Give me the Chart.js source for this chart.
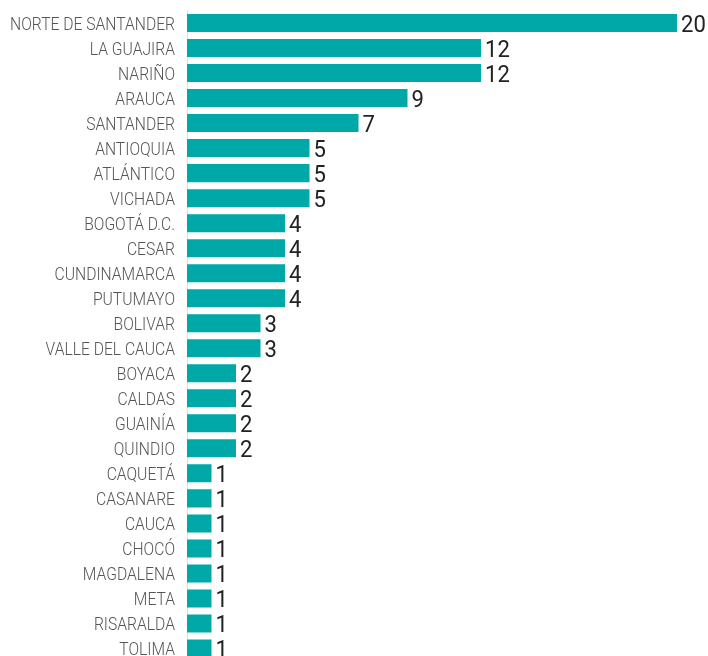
<!DOCTYPE html>
<html>
<head>
<meta charset="utf-8">
<script src="https://cdn.jsdelivr.net/npm/chart.js@4.4.0/dist/chart.umd.min.js"></script>
<style>
  html, body { margin: 0; padding: 0; background: #fff; overflow: hidden; }
  #wrap { position: relative; width: 708px; height: 661px; }
</style>
</head>
<body>
<div id="wrap"><canvas id="chart"></canvas></div>
<script>
  const departamentos = ['NORTE DE SANTANDER', 'LA GUAJIRA', 'NARIÑO', 'ARAUCA', 'SANTANDER',
    'ANTIOQUIA', 'ATLÁNTICO', 'VICHADA', 'BOGOTÁ D.C.', 'CESAR', 'CUNDINAMARCA', 'PUTUMAYO',
    'BOLIVAR', 'VALLE DEL CAUCA', 'BOYACA', 'CALDAS', 'GUAINÍA', 'QUINDIO', 'CAQUETÁ',
    'CASANARE', 'CAUCA', 'CHOCÓ', 'MAGDALENA', 'META', 'RISARALDA', 'TOLIMA'];
  const casos = [20, 12, 12, 9, 7, 5, 5, 5, 4, 4, 4, 4, 3, 3, 2, 2, 2, 2, 1, 1, 1, 1, 1, 1, 1, 1];

  // condensed category names on the y axis + numbers at the end of each bar
  const barText = {
    id: 'barText',
    afterDatasetsDraw(chart) {
      const ctx = chart.ctx;
      const yScale = chart.scales.y;
      const meta = chart.getDatasetMeta(0);
      ctx.save();
      ctx.textBaseline = 'alphabetic';

      ctx.font = '300 18px Roboto';
      ctx.fillStyle = '#555';
      ctx.textAlign = 'right';
      const squeeze = 0.87;
      yScale.getLabels().forEach((name, i) => {
        const y = yScale.getPixelForTick(i);
        ctx.save();
        ctx.translate(yScale.right - 12, y + 6.5);
        ctx.scale(squeeze, 1);
        ctx.fillText(name, 0, 0);
        ctx.restore();
      });

      ctx.font = '400 24px Roboto';
      ctx.fillStyle = '#222';
      ctx.textAlign = 'left';
      meta.data.forEach((bar, i) => {
        ctx.save();
        ctx.translate(bar.x + 4, bar.y + 8.5);
        ctx.scale(0.92, 1);
        ctx.fillText(casos[i], 0, 0);
        ctx.restore();
      });
      ctx.restore();
    }
  };

  new Chart(document.getElementById('chart'), {
    type: 'bar',
    data: {
      labels: departamentos,
      datasets: [{
        data: casos,
        backgroundColor: '#00A9A8',
        borderWidth: 0,
        categoryPercentage: 1,
        barPercentage: 0.72
      }]
    },
    options: {
      indexAxis: 'y',
      responsive: true,
      maintainAspectRatio: false,
      animation: false,
      layout: { padding: { top: 10.5, right: 31, left: 0, bottom: 0 } },
      plugins: { legend: { display: false }, tooltip: { enabled: false } },
      scales: {
        x: {
          min: 0,
          max: 20,
          display: false
        },
        y: {
          grid: { display: false, drawTicks: false },
          border: { display: true, color: '#d5e6e6', width: 1 },
          ticks: { display: false },
          afterFit(axis) {
            axis.width = 187;
            axis.paddingTop = 0;
            axis.paddingBottom = 0;
          }
        }
      }
    },
    plugins: [barText]
  });
</script>
</body>
</html>
